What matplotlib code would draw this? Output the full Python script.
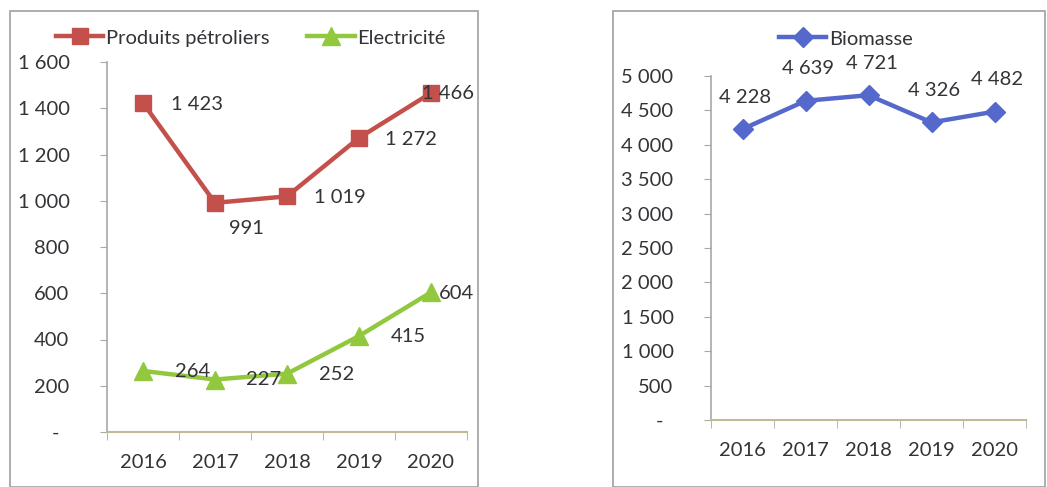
import matplotlib.pyplot as plt
from matplotlib.patches import Rectangle
from matplotlib.ticker import FixedLocator

years = ["2016", "2017", "2018", "2019", "2020"]
petrole = [1423, 991, 1019, 1272, 1466]
electricite = [264, 227, 252, 415, 604]
biomasse = [4228, 4639, 4721, 4326, 4482]

W, H = 1047, 487
RED = "#C4504B"
GREEN = "#92C83E"
BLUE = "#5569CC"
TXT = "#333338"
AXC = "#A8A8A8"
XAXC = "#C2BA92"

plt.rcParams['font.family'] = ['Lato', 'DejaVu Sans']
plt.rcParams['font.size'] = 14.5
plt.rcParams['text.color'] = TXT


def fmt(v):
    return f"{v:,}".replace(",", " ") if v else "-  "


def px_axes(fig, x0, y0, x1, y1):
    return fig.add_axes([x0 / W, 1 - y1 / H, (x1 - x0) / W, (y1 - y0) / H])


def style(ax, ymax, step):
    ax.set_xlim(-0.5, 4.5)
    ax.set_ylim(0, ymax)
    for s in ("top", "right"):
        ax.spines[s].set_visible(False)
    ax.spines["left"].set_color(AXC)
    ax.spines["bottom"].set_color(XAXC)
    ax.spines["left"].set_linewidth(1.2)
    ax.spines["bottom"].set_linewidth(1.5)
    ax.set_xticks(range(len(years)))
    ax.set_xticklabels(years)
    ax.xaxis.set_minor_locator(FixedLocator([i - 0.5 for i in range(len(years) + 1)]))
    ax.tick_params(axis="x", which="major", length=0, pad=16, labelcolor=TXT)
    ax.tick_params(axis="x", which="minor", length=6, color=AXC, direction="out")
    yt = list(range(0, ymax + 1, step))
    ax.set_yticks(yt)
    ax.set_yticklabels([fmt(v) for v in yt])
    ax.tick_params(axis="y", length=5, color=AXC, pad=22, labelcolor=TXT)


fig = plt.figure(figsize=(W / 100, H / 100), dpi=100)

# cadres autour des deux graphiques
fig.patches.append(Rectangle((10 / W, 0), 468 / W, 1 - 11 / H, transform=fig.transFigure,
                             fill=False, edgecolor="#A0A0A0", linewidth=1.2))
fig.patches.append(Rectangle((613 / W, 0), 432 / W, 1 - 11 / H, transform=fig.transFigure,
                             fill=False, edgecolor="#A0A0A0", linewidth=1.2))

# --- produits pétroliers et électricité
ax1 = px_axes(fig, 107, 62, 467, 432)
x = range(len(years))
ax1.plot(x, petrole, color=RED, lw=3.2, marker="s", ms=12, label="Produits pétroliers")
ax1.plot(x, electricite, color=GREEN, lw=3.2, marker="^", ms=13, label="Electricité")
style(ax1, 1600, 200)

off_p = [(54, -2), (31, -26), (53, -1), (52, -2), (17, -1)]
for i, v in enumerate(petrole):
    ax1.annotate(fmt(v), (i, v), xytext=off_p[i], textcoords="offset pixels",
                 ha="center", va="center")
off_e = [(50, -1), (49, 0), (50, -1), (49, 0), (26, -1)]
for i, v in enumerate(electricite):
    ax1.annotate(fmt(v), (i, v), xytext=off_e[i], textcoords="offset pixels",
                 ha="center", va="center")

ax1.legend(loc="center", bbox_to_anchor=(251 / W, 1 - 38 / H), bbox_transform=fig.transFigure,
           ncol=2, frameon=False, handlelength=2.35, handletextpad=0.15, columnspacing=1.85,
           borderpad=0, borderaxespad=0)

# --- biomasse
ax2 = px_axes(fig, 711, 76, 1026, 420)
ax2.plot(x, biomasse, color=BLUE, lw=3.2, marker="D", ms=10, label="Biomasse")
style(ax2, 5000, 500)
for i, v in enumerate(biomasse):
    ax2.annotate(fmt(v), (i, v), xytext=(3, 32), textcoords="offset pixels",
                 ha="center", va="center")

ax2.legend(loc="center", bbox_to_anchor=(846 / W, 1 - 39 / H), bbox_transform=fig.transFigure,
           frameon=False, handlelength=2.35, handletextpad=0.15, borderpad=0, borderaxespad=0)

fig.savefig("out.png", dpi=100)
